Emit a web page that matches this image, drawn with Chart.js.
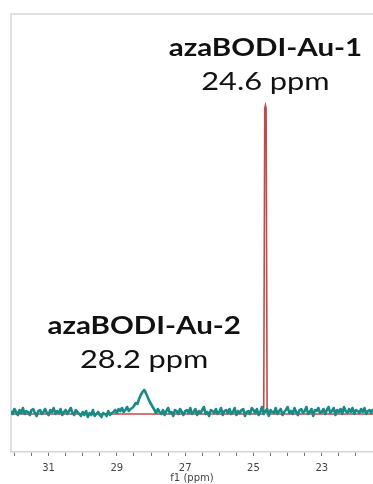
<!DOCTYPE html>
<html>
<head>
<meta charset="utf-8">
<script src="https://cdn.jsdelivr.net/npm/chart.js@4/dist/chart.umd.min.js"></script>
<style>
html,body{margin:0;padding:0;background:#fff;}
#c{display:block;}
</style>
</head>
<body>
<canvas id="c" width="373" height="484"></canvas>
<script>
// ---- data ----
const axisMin = 21.5, axisMax = 32.1;
const tealStart = 32.10, tealStep = 0.05;   // acquisition grid (ppm)
const tealValues = [
  1,-2,3,0,-3,2,-1,4,-2,1,0,-3,2,3,-1,-4,1,2,-2,0,
  3,-1,-3,2,0,4,-2,1,-1,3,-3,0,2,-2,1,4,-1,-3,2,0,
  -2,-4,0,-3,1,-5,-1,-3,2,-4,-2,0,-3,-5,-1,-2,-4,1,-3,-1,
  0,2,-1,3,1,4,0,2,5,1,3,4,
  6,9,8,13,17,20,22,19,15,11,8,5,2,
  -1,3,0,-2,2,-3,1,4,-1,0,-4,2,1,-2,3,0,-3,1,2,-1,
  4,-2,0,3,-3,1,-1,2,5,-2,0,-4,2,1,-1,3,-2,0,4,-3,
  1,2,-1,3,-2,0,4,-3,1,-1,2,3,-4,0,1,-2,4,2,-1,3,
  -3,0,5,-2,1,3,-4,2,0,-1,4,-2,1,3,-3,0,2,5,-1,1,
  -2,4,0,-3,2,3,-1,1,5,-2,0,3,-4,2,1,4,-1,0,3,-2,
  2,5,-1,1,4,-3,2,0,3,-2,5,1,-1,3,0,4,-2,2,1,-1,
  3,0,4,-2,1,2,-1,3
];
const redPpm    = [32.1, 24.70, 24.67, 24.65, 24.63, 24.60, 21.5];
const redValues = [-2,   -2,    304,   307,   304,   -2,    -2];
const xTickLabels = [31, 29, 27, 25, 23];
const annotations = [
  {ppm: 24.65, title: "azaBODI-Au-1", sub: "24.6 ppm", y: 48},
  {ppm: 28.2, title: "azaBODI-Au-2", sub: "28.2 ppm", y: 326}
];

// ---- build ----
const tealData = tealValues.map((v, i) => ({x: +(tealStart - i * tealStep).toFixed(3), y: v}));
const redData = redPpm.map((p, i) => ({x: p, y: redValues[i]}));
const FRAME = '#d6d6d6';

const framePlugin = {
  id: 'frame',
  beforeDatasetsDraw(chart) {
    const {ctx, chartArea: a} = chart;
    ctx.save();
    ctx.strokeStyle = FRAME;
    ctx.lineWidth = 1.5;
    ctx.beginPath();
    ctx.moveTo(a.left, a.bottom);
    ctx.lineTo(a.left, a.top);
    ctx.lineTo(chart.width, a.top);
    ctx.stroke();
    ctx.restore();
  }
};

const annotPlugin = {
  id: 'annot',
  afterDraw(chart) {
    const ctx = chart.ctx;
    const xs = chart.scales.x;
    ctx.save();
    ctx.fillStyle = '#111';
    ctx.textAlign = 'center';
    ctx.textBaseline = 'middle';
    annotations.forEach((a) => {
      const cx = xs.getPixelForValue(a.ppm);
      ctx.save();
      ctx.translate(cx, a.y);
      ctx.scale(1.18, 1);
      ctx.font = 'bold 25px Lato';
      ctx.fillText(a.title, 0, 0);
      ctx.restore();
      ctx.save();
      ctx.translate(cx, a.y + 34);
      ctx.scale(1.23, 1);
      ctx.font = '25px Lato';
      ctx.fillText(a.sub, 0, 0);
      ctx.restore();
    });
    ctx.restore();
  }
};

new Chart(document.getElementById('c'), {
  type: 'line',
  data: {
    datasets: [
      {data: tealData, borderColor: '#178c87', borderWidth: 2.6, pointRadius: 0, tension: 0, fill: false, borderJoinStyle: 'round'},
      {data: redData, borderColor: '#c04a4c', borderWidth: 1.6, pointRadius: 0, tension: 0, fill: false}
    ]
  },
  options: {
    responsive: false,
    animation: false,
    events: [],
    layout: {padding: {left: 11, top: 14, right: 0, bottom: 0}},
    plugins: {legend: {display: false}, tooltip: {enabled: false}},
    scales: {
      x: {
        type: 'linear',
        reverse: true,
        min: axisMin,
        max: axisMax,
        position: 'bottom',
        border: {display: true, color: FRAME, width: 1.5},
        grid: {drawOnChartArea: false, drawTicks: true, tickLength: 4, tickColor: '#777', tickWidth: 1},
        ticks: {
          stepSize: 0.5,
          includeBounds: false,
          autoSkip: false,
          maxRotation: 0,
          padding: 6,
          color: '#444',
          font: {family: 'DejaVu Sans', size: 10},
          callback: (v) => {
            const r = Math.round(v);
            return (Math.abs(v - r) < 1e-6 && xTickLabels.includes(r)) ? String(r) : '';
          }
        },
        title: {display: true, text: 'f1 (ppm)', color: '#444', font: {family: 'DejaVu Sans', size: 10}, padding: {top: -4, bottom: 0}},
        afterFit: (a) => { a.height = 32; a.paddingRight = 0; a.paddingLeft = 0; }
      },
      y: {
        type: 'linear',
        display: false,
        min: -40,
        max: 398
      }
    }
  },
  plugins: [framePlugin, annotPlugin]
});
</script>
</body>
</html>
